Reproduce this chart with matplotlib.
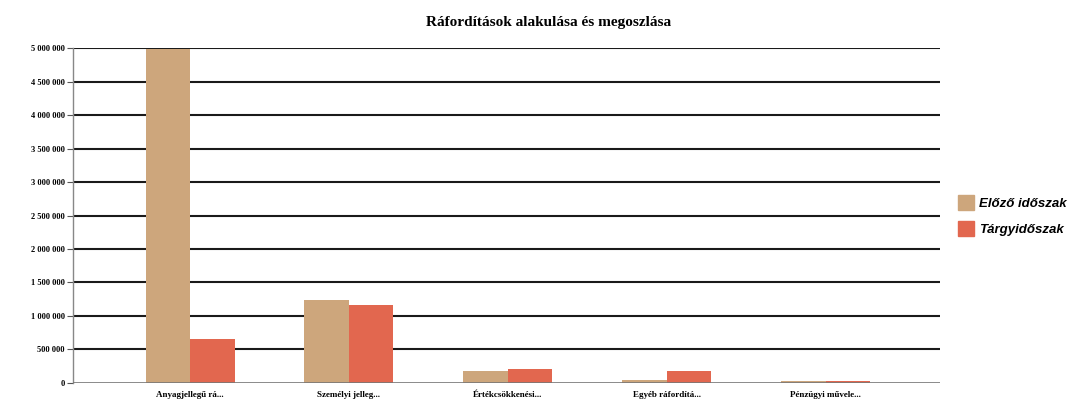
import matplotlib
matplotlib.use("Agg")
import matplotlib.pyplot as plt
import numpy as np
from matplotlib.patches import Patch

categories = ["Anyagjellegű rá...", "Személyi jelleg...", "Értékcsökkenési...",
              "Egyéb ráfordítá...", "Pénzügyi művele..."]
elozo = [4980000, 1240000, 180000, 50000, 35000]
targy = [660000, 1160000, 210000, 180000, 25000]
series_names = ["Előző időszak", "Tárgyidőszak"]
yticks = list(range(0, 5000001, 500000))
ytick_labels = ["0", "500 000", "1 000 000", "1 500 000", "2 000 000", "2 500 000",
                "3 000 000", "3 500 000", "4 000 000", "4 500 000", "5 000 000"]

c_tan = "#CDA67C"
c_red = "#E2674F"

fig = plt.figure(figsize=(10.81, 4.07), dpi=100)
ax = fig.add_axes([0.0675, 0.059, 0.802, 0.823])

x = np.arange(len(categories))
w = 0.28
ax.bar(x - w / 2, elozo, w, color=c_tan, zorder=3)
ax.bar(x + w / 2, targy, w, color=c_red, zorder=3)

ax.set_xlim(-0.737, 4.72)
ax.set_ylim(0, 5000000)
ax.set_yticks(yticks)
ax.set_yticklabels(ytick_labels, family="Liberation Serif", fontweight="bold", fontsize=6)
ax.set_xticks(x)
ax.set_xticklabels(categories, family="Liberation Serif", fontweight="bold", fontsize=6.5)
ax.tick_params(axis="x", length=0, pad=6)
ax.tick_params(axis="y", length=4, width=0.8, color="#555555", pad=2)

for yv in yticks[1:]:
    ax.axhline(yv, color="#1a1a1a", lw=1.5, zorder=1)
ax.axhline(0, color="#777777", lw=1.2, zorder=4)

for s in ["top", "right", "bottom"]:
    ax.spines[s].set_visible(False)
ax.spines["left"].set_color("#888888")
ax.spines["left"].set_linewidth(1.0)

fig.text(0.507, 0.945, "Ráfordítások alakulása és megoszlása", ha="center", va="center",
         family="Liberation Serif", fontweight="bold", fontsize=11)

handles = [Patch(color=c_tan), Patch(color=c_red)]
fig.legend(handles, series_names, loc="center left", bbox_to_anchor=(0.875, 0.47),
           frameon=False,
           prop={"family": "Liberation Sans", "style": "italic", "weight": "bold", "size": 9.5},
           handlelength=1.2, handleheight=1.3, handletextpad=0.4, labelspacing=0.85)

fig.savefig("out.png", dpi=100)
